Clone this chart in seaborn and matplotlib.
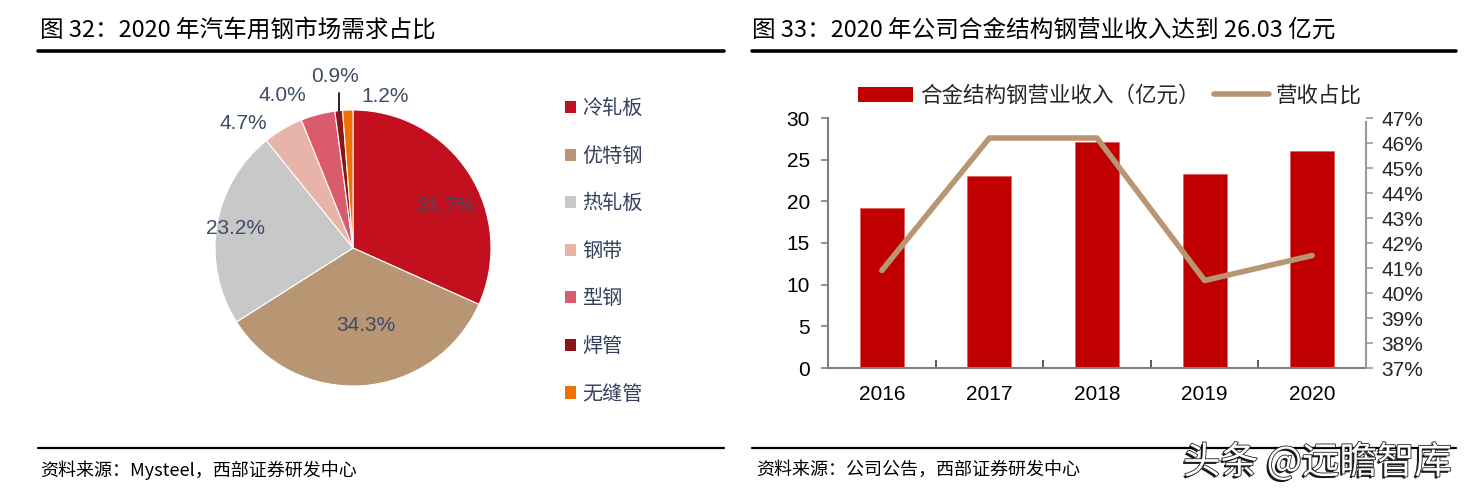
import numpy as np
import pandas as pd
import matplotlib
matplotlib.use("Agg")
import matplotlib.pyplot as plt
import matplotlib.patheffects as pe
from matplotlib.patches import Patch
from matplotlib.lines import Line2D
import seaborn as sns

sns.set_theme(style="white")
plt.rcParams['font.family'] = ['Liberation Sans', 'Noto Sans CJK SC', 'DejaVu Sans']

# ---------------- data ----------------
pie_categories = ["冷轧板", "优特钢", "热轧板", "钢带", "型钢", "焊管", "无缝管"]
pie_values = [31.7, 34.3, 23.2, 4.7, 4.0, 0.9, 1.2]
pie_colors = ["#C3101F", "#B99673", "#C8C8C8", "#E8B3A8", "#DB5A6B", "#8C1518", "#EE7203"]

years = ["2016", "2017", "2018", "2019", "2020"]
revenue = [19.2, 23.0, 27.1, 23.3, 26.03]
share = [0.409, 0.462, 0.462, 0.405, 0.415]

title_left = "图 32：2020 年汽车用钢市场需求占比"
title_right = "图 33：2020 年公司合金结构钢营业收入达到 26.03 亿元"
source_left = "资料来源：Mysteel，西部证券研发中心"
source_right = "资料来源：公司公告，西部证券研发中心"
bar_label = "合金结构钢营业收入（亿元）"
line_label = "营收占比"
watermark = "头条 @远瞻智库"

W, H = 1467, 495
fig = plt.figure(figsize=(W / 100, H / 100), dpi=100)
fig.patch.set_facecolor("white")


def fx(px):
    return px / W


def fy(py):
    return 1 - py / H


# ---------------- headers / footers ----------------
CJK = ['Noto Sans CJK SC', 'DejaVu Sans']
fig.text(fx(40), fy(30), title_left, fontsize=17, family=CJK, va="center", ha="left", color="black")
fig.text(fx(752), fy(30), title_right, fontsize=17, family=CJK, va="center", ha="left", color="black")
fig.add_artist(Line2D([fx(38), fx(724)], [fy(51), fy(51)], color="black", lw=2.6))
fig.add_artist(Line2D([fx(752), fx(1456)], [fy(51), fy(51)], color="black", lw=2.6))
fig.add_artist(Line2D([fx(38), fx(724)], [fy(448), fy(448)], color="black", lw=1.6))
fig.add_artist(Line2D([fx(752), fx(1456)], [fy(448), fy(448)], color="black", lw=1.6))
fig.text(fx(40), fy(470), source_left, fontsize=13, family=CJK, va="center", ha="left", color="black")
fig.text(fx(756), fy(470), source_right, fontsize=13, family=CJK, va="center", ha="left", color="black")

# ---------------- pie ----------------
R = 138
half = R * 1.25
cx, cy = 353, 248
ax_pie = fig.add_axes([fx(cx - half), fy(cy + half), fx(2 * half), 2 * half / H])
wedges, texts, autotexts = ax_pie.pie(
    pie_values, colors=pie_colors, startangle=90, counterclock=False,
    autopct="%.1f%%", pctdistance=0.7,
    wedgeprops=dict(linewidth=0.8, edgecolor="white"),
    textprops=dict(fontsize=15, color="#3F4C66"))
ax_pie.set_xlim(-1.25, 1.25)
ax_pie.set_ylim(-1.25, 1.25)
ax_pie.set_aspect("equal")
ax_pie.axis("off")

# label layout (angle offset in degrees, radius)
label_layout = [(-9, 0.74), (5, 0.57), (0, 0.86), (11, 1.2), (10, 1.22), (0, 1.25), (-14, 1.12)]
for w, t, (doff, r) in zip(wedges, autotexts, label_layout):
    mid = np.deg2rad((w.theta1 + w.theta2) / 2 + doff)
    t.set_position((r * np.cos(mid), r * np.sin(mid)))
    t.set_ha("center")
    t.set_va("center")
# leader line for the small 焊管 slice
w = wedges[5]
mid = np.deg2rad((w.theta1 + w.theta2) / 2)
ax_pie.plot([1.0 * np.cos(mid), 1.0 * np.cos(mid)], [1.0 * np.sin(mid), 1.13 * np.sin(mid)],
            color="black", lw=1.2)

handles = [Patch(facecolor=c, edgecolor="none") for c in pie_colors]
leg = fig.legend(handles, pie_categories, loc="upper left", bbox_to_anchor=(fx(547), fy(80)),
                 frameon=False, handlelength=0.55, handleheight=0.55,
                 handletextpad=0.3, labelspacing=1.32, prop=dict(family=CJK, size=14.5))
for t in leg.get_texts():
    t.set_color("#33415C")

# ---------------- bar + line ----------------
ax = fig.add_axes([fx(828), fy(368), fx(1366 - 828), (368 - 118) / H])
df = pd.DataFrame({"year": years, "revenue": revenue, "share": share})
sns.barplot(data=df, x="year", y="revenue", color="#C00000", width=0.41, ax=ax,
            saturation=1, edgecolor="#E05050", linewidth=0.4)
ax.set_xlim(-0.5, len(years) - 0.5)
ax.set_ylim(0, 30)
ax.set_yticks(np.arange(0, 31, 5))
ax.set_xlabel("")
ax.set_ylabel("")
for s in ["top", "right"]:
    ax.spines[s].set_visible(False)
for s in ["left", "bottom"]:
    ax.spines[s].set_color("#7F7F7F")
    ax.spines[s].set_linewidth(1.5)
ax.tick_params(axis="y", which="major", direction="out", length=5, width=1.2, color="#7F7F7F",
               labelsize=15, pad=8, left=True)
ax.tick_params(axis="x", which="major", length=0, labelsize=15, pad=12)
ax.set_xticks(np.arange(-0.5, len(years) + 0.5, 1), minor=True)
ax.tick_params(axis="x", which="minor", direction="in", length=6, width=1.2, color="#404040", bottom=True)
for lab in ax.get_xticklabels() + ax.get_yticklabels():
    lab.set_color("black")

ax2 = ax.twinx()
sns.lineplot(x=np.arange(len(years)), y=share, color="#B99673", lw=4, ax=ax2, legend=False)
ax2.set_ylim(0.37, 0.47)
ax2.set_yticks(np.arange(0.37, 0.4701, 0.01))
ax2.set_yticklabels([f"{v*100:.0f}%" for v in np.arange(0.37, 0.4701, 0.01)])
ax2.set_xlim(-0.5, len(years) - 0.5)
for s in ["top", "left", "bottom"]:
    ax2.spines[s].set_visible(False)
ax2.spines["right"].set_color("#9A9A9A")
ax2.spines["right"].set_linewidth(1.5)
ax2.spines["right"].set_bounds(0.37, 0.4685)
ax2.tick_params(axis="y", direction="out", length=5, width=1.2, color="#9A9A9A",
                labelsize=15, pad=6, right=True)
ax2.set_ylabel("")

lh = [Patch(facecolor="#C00000", edgecolor="none"), Line2D([0], [0], color="#B99673", lw=4)]
fig.legend(lh, [bar_label, line_label], loc="center left", bbox_to_anchor=(fx(839), fy(96)),
           ncol=2, frameon=False, handlelength=2.55, handleheight=0.75, handletextpad=0.3,
           columnspacing=0.68, prop=dict(family=CJK, size=15.5))

# ---------------- watermark ----------------
fig.text(fx(1452), fy(463), watermark, fontsize=27, family=CJK, ha="right", va="center",
         color="white",
         path_effects=[pe.withSimplePatchShadow(offset=(-1.5, -1.5), shadow_rgbFace="black", alpha=0.9),
                       pe.Stroke(linewidth=1.2, foreground="#222222"), pe.Normal()])

fig.savefig("out.png", dpi=100, facecolor="white")
